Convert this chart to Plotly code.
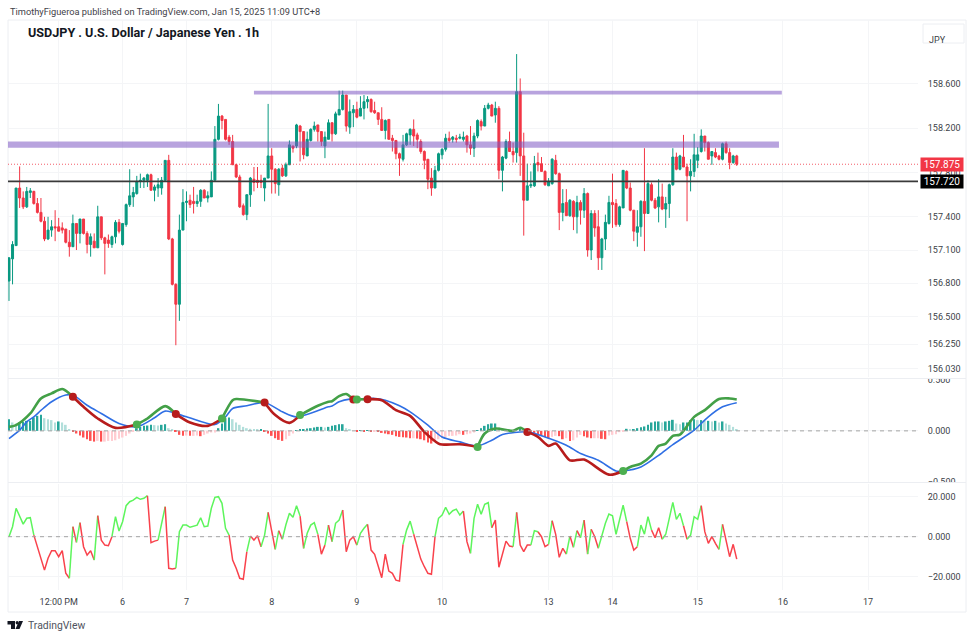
import plotly.graph_objects as go
from plotly.subplots import make_subplots

W = 975
H = 639

# price pane, one entry per 1h bar
opens = [156.82,157.02,157.14,157.66,157.57,157.49,157.62,157.63,157.52,157.44,157.36,157.2,157.28,157.31,157.31,157.30,157.29,157.17,157.13,157.34,
157.25,157.38,157.25,157.15,157.18,157.12,157.40,157.21,157.19,157.15,157.22,157.35,157.15,157.33,157.51,157.58,157.61,157.72,157.73,157.73,
157.78,157.64,157.66,157.66,157.73,157.91,157.20,156.79,156.61,157.28,157.53,157.55,157.54,157.52,157.54,157.64,157.57,157.58,157.73,158.10,
158.31,158.28,158.12,158.08,157.87,157.76,157.50,157.42,157.60,157.74,157.73,157.73,157.66,157.75,157.95,157.83,157.69,157.84,157.77,157.87,
158.04,158.04,158.22,158.17,157.95,158.09,158.19,158.23,158.17,158.04,158.10,158.25,158.15,158.32,158.37,158.50,158.21,158.34,158.37,158.31,
158.38,158.44,158.46,158.36,158.34,158.28,158.18,158.28,158.11,158.09,157.97,157.92,158.05,158.14,158.19,158.14,158.08,157.99,157.92,157.75,
157.66,157.82,157.96,158.01,158.11,158.10,158.11,158.11,158.10,158.13,158.05,158.02,158.13,158.26,158.22,158.38,158.41,158.32,158.38,157.82,
157.93,158.08,157.99,157.98,158.53,157.95,157.55,157.68,157.68,157.89,157.88,157.81,157.68,157.70,157.91,157.79,157.44,157.53,157.41,157.54,
157.40,157.53,157.46,157.61,157.10,157.43,157.31,157.03,157.20,157.34,157.53,157.52,157.33,157.48,157.81,157.66,157.46,157.26,157.31,157.54,
157.43,157.69,157.55,157.49,157.58,157.47,157.52,157.69,157.94,157.83,157.94,157.85,157.77,157.81,157.91,157.99,158.13,158.07,157.95,157.98,
157.95,157.92,158.06,157.98,157.89,157.95]
highs = [157.03,157.18,157.66,157.855,157.63,157.67,157.66,157.635,157.57,157.57,157.40,157.40,157.37,157.46,157.39,157.35,157.29,157.28,157.42,157.34,
157.38,157.38,157.27,157.25,157.25,157.50,157.40,157.22,157.24,157.23,157.37,157.38,157.34,157.52,157.83,157.67,157.77,157.79,157.76,157.79,
157.79,157.69,157.75,157.76,157.91,157.96,157.21,156.80,157.42,157.65,157.63,157.60,157.67,157.60,157.65,157.65,157.63,157.81,158.22,158.42,
158.32,158.28,158.14,158.14,157.88,157.78,157.52,157.60,157.76,157.85,157.85,157.78,157.75,158.42,158.02,157.84,157.84,157.87,157.89,158.09,
158.04,158.24,158.23,158.17,158.17,158.20,158.26,158.23,158.17,158.17,158.28,158.25,158.35,158.54,158.54,158.50,158.46,158.41,158.44,158.49,
158.50,158.49,158.47,158.44,158.34,158.39,158.28,158.28,158.14,158.09,157.98,158.14,158.16,158.20,158.28,158.16,158.10,158.00,157.92,157.84,
157.86,157.98,158.02,158.15,158.17,158.13,158.14,158.15,158.17,158.14,158.22,158.16,158.28,158.28,158.41,158.43,158.42,158.44,158.40,157.95,
158.10,158.17,158.07,158.87,158.65,158.16,157.88,157.81,157.95,157.98,157.94,157.82,157.75,157.93,157.96,157.80,157.65,157.65,157.56,157.55,
157.59,157.55,157.66,157.62,157.46,157.46,157.46,157.21,157.42,157.59,157.79,157.56,157.50,157.82,157.82,157.71,157.46,157.46,157.55,158.02,
157.73,157.71,157.57,157.74,157.70,157.58,157.70,158.02,157.98,157.96,158.14,157.88,157.92,158.15,158.03,158.19,158.13,158.08,157.99,158.02,
157.96,158.07,158.08,158.02,157.96,157.96]
lows = [156.64,156.79,157.14,157.48,157.47,157.48,157.57,157.51,157.43,157.35,157.18,157.19,157.22,157.18,157.27,157.25,157.16,157.04,157.13,157.10,
157.16,157.24,157.07,157.04,157.12,157.12,157.19,156.88,157.12,157.12,157.16,157.25,157.14,157.31,157.49,157.49,157.60,157.66,157.66,157.67,
157.64,157.54,157.58,157.60,157.72,157.19,156.78,156.24,156.46,157.28,157.36,157.48,157.43,157.49,157.49,157.57,157.53,157.58,157.73,158.09,
158.19,158.09,158.05,157.87,157.75,157.48,157.41,157.37,157.49,157.63,157.66,157.66,157.54,157.75,157.61,157.61,157.59,157.76,157.76,157.87,
157.98,158.02,157.90,157.92,157.95,158.08,158.17,158.08,158.04,157.93,158.10,158.08,158.14,158.32,158.36,158.17,158.15,158.21,158.29,158.31,
158.28,158.38,158.34,158.33,158.23,158.18,158.10,158.10,157.99,157.92,157.77,157.90,158.04,158.05,158.04,158.02,157.97,157.83,157.65,157.59,
157.66,157.81,157.92,157.99,158.07,158.07,158.07,158.10,158.08,157.98,157.96,157.94,158.11,158.18,158.22,158.37,158.31,158.25,157.74,157.63,
157.92,157.99,157.89,157.89,157.77,157.23,157.55,157.66,157.67,157.81,157.81,157.68,157.68,157.69,157.78,157.28,157.36,157.41,157.40,157.28,
157.25,157.33,157.39,157.04,157.01,157.22,156.92,156.92,157.10,157.33,157.30,157.31,157.31,157.48,157.65,157.45,157.18,157.13,157.22,157.09,
157.43,157.54,157.47,157.35,157.46,157.30,157.39,157.68,157.82,157.82,157.85,157.36,157.63,157.76,157.84,157.98,157.99,157.92,157.87,157.93,
157.91,157.91,157.97,157.83,157.88,157.86]
closes = [157.03,157.15,157.66,157.57,157.49,157.63,157.635,157.52,157.44,157.36,157.2,157.28,157.31,157.30,157.27,157.28,157.17,157.13,157.34,157.25,
157.38,157.25,157.15,157.22,157.12,157.40,157.21,157.16,157.16,157.22,157.35,157.27,157.34,157.51,157.59,157.62,157.72,157.73,157.75,157.78,
157.64,157.67,157.69,157.73,157.91,157.20,156.79,156.61,157.28,157.53,157.54,157.51,157.52,157.54,157.64,157.57,157.59,157.73,158.10,158.31,
158.27,158.10,158.08,157.87,157.76,157.49,157.42,157.60,157.75,157.71,157.71,157.71,157.75,157.95,157.83,157.70,157.83,157.77,157.87,158.05,
158.02,158.23,158.17,157.96,158.10,158.19,158.22,158.17,158.08,158.12,158.25,158.15,158.33,158.37,158.50,158.22,158.35,158.37,158.30,158.38,
158.44,158.46,158.35,158.34,158.28,158.18,158.27,158.10,158.09,157.97,157.93,158.05,158.15,158.19,158.13,158.10,157.99,157.91,157.74,157.66,
157.82,157.97,158.01,158.11,158.09,158.12,158.10,158.12,158.12,158.05,158.02,158.13,158.27,158.22,158.38,158.41,158.31,158.38,157.82,157.94,
158.08,157.99,157.96,158.53,157.95,157.55,157.68,157.69,157.88,157.87,157.81,157.69,157.72,157.92,157.79,157.44,157.52,157.41,157.55,157.40,
157.53,157.46,157.61,157.10,157.43,157.30,157.03,157.20,157.35,157.53,157.51,157.33,157.49,157.82,157.66,157.46,157.27,157.31,157.54,157.43,
157.70,157.55,157.48,157.58,157.47,157.52,157.69,157.94,157.83,157.95,157.85,157.77,157.81,157.96,157.96,158.13,158.07,157.92,157.99,157.94,
157.92,158.06,157.98,157.89,157.95,157.875]

# oscillator pane values, one per bar
wt_values = [0,5,14.2,10.5,6.3,9.2,9.5,0.8,-5,-11.7,-16.7,-10.8,-7,-7,-10,-7,-18.3,-20.8,5,-2.8,
7,-5,-9.2,-7,-11.7,10.5,-1.7,-4.2,-4.5,0,10,2.8,7.5,15.5,17.5,18.3,19.7,18.7,19.2,20.5,
-3,-2.2,-1.7,7,15,-15.8,-16.2,-15.8,2.5,5.8,5.8,4.7,5.3,5.8,9.5,5,5.3,14.2,19.7,20,
16.7,4.2,0.8,-11.7,-15.8,-20.8,-21.3,-7.5,0.3,-1.7,0.5,-5,0.8,12.2,2.5,-6.3,3,-1.3,6,11.7,
9.7,15.5,10.3,-5.8,1.7,5.8,7,1.2,-8.7,-4.2,5.8,-2.5,6.7,8.3,13.3,-7.5,-1.7,0,-4.2,1.7,
4.2,6.2,-6.7,-8.8,-14.2,-20.5,-8.7,-17.2,-18.3,-21.7,-22.2,-3.8,3.3,7.8,1.2,-5,-11.2,-15,-18.3,-18.8,
0,9.2,10.8,14.7,11.2,13,13.8,10.8,12.8,-2.5,-8.3,9.2,16.2,11.2,16.2,17,4.5,8.3,-15.3,-8.3,
-2.2,-4.7,-5,12.2,-4.2,-7.5,-4.2,-4.2,3,2.5,0,-5,-3.8,8,1.2,-10.3,-5.8,-8.7,0.3,-5.3,
3,-0.5,8.3,-8.7,3.7,0,-5.8,0.8,6.7,11.3,10.5,1.2,8.3,15.8,7.5,-0.8,-6.7,-5,5.8,1.3,
10,3.3,-0.5,4.5,-1.3,1.2,9.2,17.2,8.7,11.7,5.5,-1.3,0.8,10,8.7,15.5,2.5,-3.3,0,-3.3,
-6.3,6.2,-2.5,-10,-3.8,-11.2]
# bars where the oscillator line changes colour, starts green
wt_flips = [7,17,18,19,20,24,25,29,39,42,44,47,62,67,68,71,73,75,76,77,82,83,87,89,90,91,94,98,101,111,114,120,128,130,136,
142,143,147,149,152,153,157,158,159,160,161,162,163,164,166,174,177,181,184,190,191,195,200,201]

# macd pane
hist_values = [.114,.082,.072,.082,.088,.098,.098,.131,.147,.157,.124,.114,.105,.082,.092,.082,.059,.013,-.01,-.026,
-.046,-.065,-.082,-.098,-.105,-.098,-.105,-.105,-.098,-.098,-.092,-.078,-.065,-.049,-.026,-.01,.026,.039,.049,.052,
.059,.056,.052,.059,.065,.026,.01,-.01,-.039,-.049,-.046,-.049,-.049,-.046,-.052,-.039,-.026,-.016,-.016,.026,
.072,.124,.131,.114,.082,.059,.039,.026,.02,.016,.01,.01,-.01,-.026,-.049,-.072,-.088,-.098,-.082,-.049,
-.026,.003,.01,.016,.023,.026,.033,.039,.039,.033,.039,.049,.056,.065,.065,.026,.01,0,-.003,.003,
-.007,.007,-.01,-.007,-.01,-.02,-.026,-.033,-.039,-.052,-.059,-.062,-.065,-.072,-.072,-.075,-.082,-.092,-.114,-.124,
-.098,-.082,-.072,-.065,-.049,-.049,-.046,-.033,-.039,-.033,-.026,-.016,.007,.026,.049,.065,.072,.072,.033,.026,
.016,.01,.003,0,.01,.003,-.007,-.016,-.026,-.039,-.049,-.059,-.072,-.059,-.049,-.052,-.082,-.072,-.098,-.092,
-.065,-.039,-.052,-.065,-.072,-.072,-.072,-.078,-.082,-.046,-.039,-.033,-.013,-.003,.02,.01,.01,.026,.036,.043,
.059,.082,.092,.092,.082,.092,.098,.108,.072,.065,.082,.082,.105,.114,.105,.105,.098,.098,.092,.098,
.082,.092,.072,.059,.039,.016]
signal_bars = [0,3,5,7,9,12,16,18,22,26,31,36,41,44,50,58,61,63,67,72,77,81,90,91,93,96,99,103,106,110,113,118,122,127,132,136,139,
146,151,157,161,166,171,173,178,183,187,193,197,201,205]
signal_values = [-.075,.007,.088,.137,.2,.285,.35,.35,.25,.17,.072,.039,.128,.193,.137,.062,.137,.219,.245,.278,.186,.137,.235,.242,.284,.31,.31,.317,.30,.245,.186,.056,-.06,-.108,-.147,-.092,-.036,
-.01,-.059,-.14,-.222,-.288,-.392,-.392,-.353,-.239,-.134,.007,.137,.235,.275]
macd_bars = [0,2,6,9,12,15,17,18,21,25,30,36,39,44,47,51,56,60,63,64,72,75,79,82,87,90,91,93,95,97,98,101,105,109,113,117,121,122,127,132,134,137,142,144,146,
149,152,154,158,162,169,173,175,178,181,183,185,187,189,193,196,200,203,205]
macd_values = [.039,.056,.17,.317,.366,.409,.366,.334,.235,.121,.029,.062,.121,.242,.164,.082,.049,.121,.30,.311,.278,.154,.078,.154,.245,.284,.29,.34,.36,.307,.307,.31,.30,.203,.147,-.01,-.124,-.134,-.131,-.157,-.026,.023,0,.03,-.01,
-.059,-.147,-.124,-.288,-.281,-.428,-.392,-.353,-.32,-.239,-.147,-.124,-.049,-.036,.137,.203,.311,.317,.307]
# crossover dots, the line colour flips at each of them (starts green)
cross_bars = [18,36,47,60,72,82,97,98,101,132,146,173]

# axis labels
x_tick_bars = [14,32,50,74,98,122,152,170,194,218,242]
x_tick_text = ["12:00 PM","6","7","8","9","10","13","14","15","16","17"]
price_ticks = [158.6,158.2,157.8,157.4,157.1,156.8,156.5,156.25,156.03]
macd_ticks = [0.5,0,-0.5]
wt_ticks = [20,0,-20]

# drawn levels
upper_band = [158.505,158.54]
upper_band_bars = [69,217.7]
lower_band = [158.024,158.08]
lower_band_bars = [-0.28,216.9]
last_price = 157.875
support_price = 157.72

TEAL = "#089981"
RED = "#f23645"
FONT = "Roboto"
TEXT = "#3c3f48"
GRID = "#f4f5f7"
EDGE = "#eceef2"

bars = list(range(len(closes)))


def colour_runs(flips):
    # cut 0..len into runs of alternating colour, first run green
    edges = [0] + flips + [len(closes) - 1]
    return [(edges[i], edges[i + 1], i % 2 == 0) for i in range(len(edges) - 1)]


def px_x(v):
    return v / W


def px_y(v):
    return 1 - v / H


fig = make_subplots(rows=3, cols=1, shared_xaxes=True)

fig.add_trace(go.Candlestick(x=bars, open=opens, high=highs, low=lows, close=closes,
                             increasing={"fillcolor": TEAL, "line": {"color": TEAL, "width": 1}},
                             decreasing={"fillcolor": RED, "line": {"color": RED, "width": 1}},
                             whiskerwidth=0),
              row=1, col=1)

# histogram colours follow the usual macd rule
hist_colours = []
for i, v in enumerate(hist_values):
    prev = hist_values[i - 1] if i > 0 else v
    if v >= 0:
        hist_colours.append("#26a69a" if v >= prev else "#b2dfdb")
    else:
        hist_colours.append("#ff5252" if v < prev else "#ffcdd2")
fig.add_trace(go.Bar(x=bars, y=hist_values, width=0.5, marker_color=hist_colours, marker_line_width=0),
              row=2, col=1)

fig.add_trace(go.Scatter(x=signal_bars, y=signal_values, mode="lines",
                         line={"color": "#2f6fe4", "width": 1.6, "shape": "spline", "smoothing": 0.8}), row=2, col=1)

edges = [0] + cross_bars + [macd_bars[-1]]
for i in range(len(edges) - 1):
    xs = [b for b in macd_bars if edges[i] <= b <= edges[i + 1]]
    ys = [macd_values[macd_bars.index(b)] for b in xs]
    fig.add_trace(go.Scatter(x=xs, y=ys, mode="lines",
                             line={"color": "#43a047" if i % 2 == 0 else "#b71c1c", "width": 2.6,
                                   "shape": "spline", "smoothing": 0.8}),
                  row=2, col=1)

dot_values = [macd_values[macd_bars.index(b)] for b in cross_bars]
dot_colours = ["#b71c1c" if i % 2 == 0 else "#4caf50" for i in range(len(cross_bars))]
fig.add_trace(go.Scatter(x=cross_bars, y=dot_values, mode="markers",
                         marker={"color": dot_colours, "size": 8}), row=2, col=1)

for start, stop, green in colour_runs(wt_flips):
    fig.add_trace(go.Scatter(x=bars[start:stop + 1], y=wt_values[start:stop + 1], mode="lines",
                             line={"color": "#5df55c" if green else "#f9424c", "width": 1.5}),
                  row=3, col=1)

# levels
fig.add_shape(type="rect", x0=upper_band_bars[0], x1=upper_band_bars[1], y0=upper_band[0], y1=upper_band[1],
              fillcolor="#7e57c2", opacity=0.55, line_width=0, row=1, col=1)
fig.add_shape(type="rect", x0=lower_band_bars[0], x1=lower_band_bars[1], y0=lower_band[0], y1=lower_band[1],
              fillcolor="#7e57c2", opacity=0.55, line_width=0, row=1, col=1)
fig.add_hline(y=last_price, line_color=RED, line_width=1, line_dash="1px,2px", opacity=0.8, row=1, col=1)
fig.add_hline(y=support_price, line_color="#3a3a3a", line_width=1.6, row=1, col=1)
fig.add_hline(y=0, line_color="#a3a3a3", line_width=1, line_dash="4px,4px", row=2, col=1)
fig.add_hline(y=0, line_color="#a3a3a3", line_width=1, line_dash="4px,4px", row=3, col=1)

# frame and pane separators
fig.add_shape(type="rect", xref="paper", yref="paper", x0=px_x(8), x1=px_x(966), y0=px_y(612), y1=px_y(20),
              line={"color": EDGE, "width": 1}, layer="below")
for sep in [378.5, 482.5]:
    # covers the clipped half of the scale labels on the pane edges
    fig.add_shape(type="rect", xref="paper", yref="paper", x0=px_x(921), x1=px_x(964),
                  y0=px_y(sep - 4 if sep < 400 else sep + 6), y1=px_y(sep), fillcolor="white", line_width=0)
    fig.add_shape(type="line", xref="paper", yref="paper", x0=px_x(8), x1=px_x(966), y0=px_y(sep), y1=px_y(sep),
                  line={"color": EDGE, "width": 1})

# JPY button
fig.add_shape(type="rect", xref="paper", yref="paper", x0=px_x(923), x1=px_x(964), y0=px_y(43), y1=px_y(24),
              line={"color": EDGE, "width": 1})

# TradingView logo
fig.add_shape(type="path", xref="paper", yref="paper", fillcolor="#131722", line_width=0,
              path=f"M{px_x(7.5)},{px_y(621)} L{px_x(15)},{px_y(621)} L{px_x(15)},{px_y(629)} L{px_x(11)},{px_y(629)} "
                   f"L{px_x(11)},{px_y(624.5)} L{px_x(7.5)},{px_y(624.5)} Z")
fig.add_shape(type="path", xref="paper", yref="paper", fillcolor="#131722", line_width=0,
              path=f"M{px_x(19)},{px_y(621)} L{px_x(23)},{px_y(621)} L{px_x(19.5)},{px_y(629)} L{px_x(15.5)},{px_y(629)} Z")
fig.add_shape(type="circle", xref="paper", yref="paper", fillcolor="#131722", line_width=0,
              x0=px_x(15.6), x1=px_x(18.6), y0=px_y(624.5), y1=px_y(621))

texts = [
    (8, 11, "TimothyFigueroa published on TradingView.com, Jan 15, 2025 11:09 UTC+8", 9.25, "#3f4249"),
    (26, 32, "<b>USDJPY . U.S. Dollar / Japanese Yen . 1h</b>", 12.6, "#131722"),
    (26, 625, "TradingView", 10.4, "#50535e"),
]
for tx, ty, label, size, colour in texts:
    fig.add_annotation(xref="paper", yref="paper", x=px_x(tx), y=px_y(ty), text=label, showarrow=False,
                       xanchor="left", yanchor="middle", font={"family": FONT, "size": size, "color": colour})
fig.add_annotation(xref="paper", yref="paper", x=px_x(937.5), y=px_y(33.5), text="JPY", showarrow=False,
                   xanchor="center", font={"family": FONT, "size": 9, "color": TEXT})
fig.add_annotation(xref="paper", yref="y", x=px_x(942), y=last_price, text=f"{last_price:.3f}", showarrow=False,
                   xanchor="center", bgcolor=RED, borderpad=1,
                   font={"family": FONT, "size": 10, "color": "white"}, width=40, height=11)
fig.add_annotation(xref="paper", yref="y", x=px_x(942), y=support_price, text=f"{support_price:.3f}", showarrow=False,
                   xanchor="center", bgcolor="#000000", borderpad=1,
                   font={"family": FONT, "size": 10, "color": "white"}, width=40, height=11)

fig.update_layout(width=W, height=H, margin={"l": 0, "r": 0, "t": 0, "b": 0}, autosize=False,
                  paper_bgcolor="white", plot_bgcolor="white", showlegend=False, bargap=0.4, boxgap=0.2,
                  font={"family": FONT, "size": 9, "color": TEXT})

fig.update_xaxes(range=[-0.28, 256.06], domain=[px_x(8), px_x(918)], showgrid=True, gridcolor=GRID, gridwidth=1,
                 tickvals=x_tick_bars, ticktext=x_tick_text, zeroline=False, showline=False,
                 rangeslider_visible=False, ticks="", automargin=False)
fig.update_xaxes(ticklabelstandoff=5, row=3, col=1)

common_y = {"side": "right", "showgrid": True, "gridcolor": GRID, "zeroline": False, "showline": False,
            "ticks": "outside", "ticklen": 7, "tickcolor": "rgba(0,0,0,0)", "automargin": False}
fig.update_yaxes(range=[155.953, 159.178], domain=[px_y(377), px_y(20)], tickvals=price_ticks,
                 ticktext=[f"{t:.3f}" for t in price_ticks], row=1, col=1, **common_y)
fig.update_yaxes(range=[-0.5, 0.507], domain=[px_y(482), px_y(379)], tickvals=macd_ticks,
                 ticktext=[f"{t:.3f}".replace("-", "\u2212") for t in macd_ticks], row=2, col=1, **common_y)
fig.update_yaxes(range=[-26.65, 26.35], domain=[px_y(590), px_y(484)], tickvals=wt_ticks,
                 ticktext=[f"{t:.3f}".replace("-", "\u2212") for t in wt_ticks], row=3, col=1, **common_y)

# the page's default body margin would push the figure off its 975x639 frame
fig.write_html("out.html", config={"displayModeBar": False},
               post_script="document.body.style.margin='0';document.documentElement.style.overflow='hidden';")
